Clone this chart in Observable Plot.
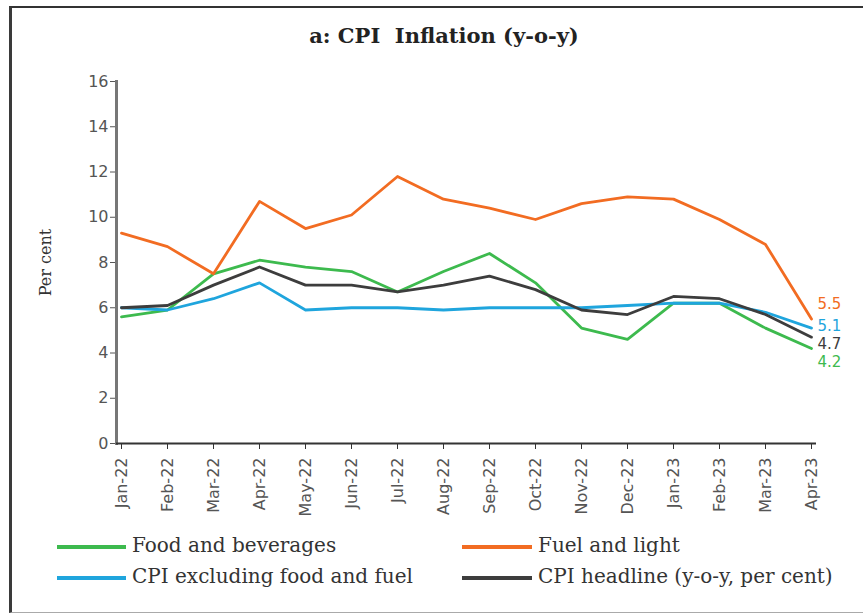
<!DOCTYPE html>
<html><head><meta charset="utf-8">
<script src="https://cdn.jsdelivr.net/npm/d3@7"></script>
<script src="https://cdn.jsdelivr.net/npm/@observablehq/plot@0.6"></script>
<style>
html,body{margin:0;padding:0;background:#fff;width:863px;height:614px;overflow:hidden;position:relative;}
#frame{position:absolute;left:9px;top:6px;width:900px;height:604px;border-top:2px solid #333;border-left:3px solid #3a3a3a;border-bottom:1px solid #aaa;}
#title{position:absolute;left:0;top:23px;width:888px;text-align:center;font-family:"DejaVu Serif",serif;font-weight:bold;font-size:21px;color:#222;white-space:pre;}
#chart{position:absolute;left:0;top:60px;}
.leg{position:absolute;font-family:"DejaVu Serif",serif;font-size:20px;color:#333;white-space:pre;}
.sw{position:absolute;height:4px;}
</style></head>
<body>
<div id="frame"></div>
<div id="title">a: CPI  Inflation (y-o-y)</div>
<div id="chart"></div>
<div id="legend"></div>
<script>
const months = ["Jan-22","Feb-22","Mar-22","Apr-22","May-22","Jun-22","Jul-22","Aug-22","Sep-22","Oct-22","Nov-22","Dec-22","Jan-23","Feb-23","Mar-23","Apr-23"];
const foodBeverages = [5.6, 5.9, 7.5, 8.1, 7.8, 7.6, 6.7, 7.6, 8.4, 7.1, 5.1, 4.6, 6.2, 6.2, 5.1, 4.2];
const fuelLight = [9.3, 8.7, 7.5, 10.7, 9.5, 10.1, 11.8, 10.8, 10.4, 9.9, 10.6, 10.9, 10.8, 9.9, 8.8, 5.5];
const coreCPI = [6.0, 5.9, 6.4, 7.1, 5.9, 6.0, 6.0, 5.9, 6.0, 6.0, 6.0, 6.1, 6.2, 6.2, 5.8, 5.1];
const headline = [6.0, 6.1, 7.0, 7.8, 7.0, 7.0, 6.7, 7.0, 7.4, 6.8, 5.9, 5.7, 6.5, 6.4, 5.7, 4.7];
const seriesNames = ["Food and beverages","Fuel and light","CPI excluding food and fuel","CPI headline (y-o-y, per cent)"];
const seriesColors = ["#3dba4e","#f26c22","#1fa5dd","#3d3d3d"];
const yTicks = [0,2,4,6,8,10,12,14,16];

const seriesValues = [foodBeverages, fuelLight, coreCPI, headline];
const rows = [];
seriesNames.forEach((s,i)=>seriesValues[i].forEach((v,j)=>rows.push({series:s, month:months[j], value:v})));
const lastIdx = months.length-1;
const endRows = seriesNames.map((s,i)=>({series:s, month:months[lastIdx], value:seriesValues[i][lastIdx]}));
const labelShift = {"Food and beverages":14, "Fuel and light":-15, "CPI excluding food and fuel":-2, "CPI headline (y-o-y, per cent)":7};

const plot = Plot.plot({
  width: 863, height: 460,
  marginLeft: 116, marginRight: 47, marginTop: 21, marginBottom: 77,
  style: {fontFamily: "DejaVu Sans, sans-serif", background: "transparent"},
  x: {type: "point", domain: months, padding: 0},
  y: {domain: [0,16]},
  color: {domain: seriesNames, range: seriesColors},
  marks: [
    Plot.axisY({ticks: yTicks, tickSize: 6, tickPadding: 2, fontSize: 16, color: "#555", stroke: "#555", label: null}),
    Plot.axisY({ticks: [], tickSize: 0, fontFamily: "DejaVu Serif, serif", fontSize: 16, color: "#333",
      label: "Per cent", labelAnchor: "center", labelOffset: 77, labelArrow: "none"}),
    Plot.axisX({tickRotate: -90, tickSize: 6, tickPadding: 8, fontSize: 16, color: "#555", stroke: "#333", label: null}),
    Plot.frame({anchor: "left", stroke: "#777", strokeWidth: 3}),
    Plot.ruleY([0], {stroke: "#333", strokeWidth: 2}),
    Plot.line(rows, {x: "month", y: "value", z: "series", stroke: "series", strokeWidth: 2.8}),
    ...seriesNames.map(s => Plot.text(endRows.filter(d=>d.series===s), {
      x: "month", y: "value", text: d => d.value.toFixed(1), fill: "series",
      dx: 6, dy: labelShift[s], textAnchor: "start", fontSize: 15
    }))
  ]
});
document.getElementById("chart").appendChild(plot);

const legendPos = [[57,547,132],[462,547,538],[57,578,132],[462,578,538]];
const lg = document.getElementById("legend");
seriesNames.forEach((s,i)=>{
  const [sx, sy, tx] = legendPos[i];
  const sw = document.createElement("div"); sw.className="sw";
  sw.style.left=sx+"px"; sw.style.top=(sy-2)+"px"; sw.style.width=(tx-sx-6)+"px"; sw.style.background=seriesColors[i];
  lg.appendChild(sw);
  const t = document.createElement("div"); t.className="leg"; t.textContent=s;
  t.style.left=tx+"px"; t.style.top=(sy-14)+"px";
  lg.appendChild(t);
});
</script>
</body></html>
